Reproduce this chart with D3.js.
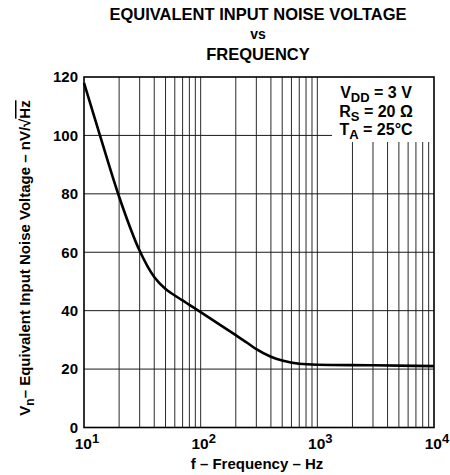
<!DOCTYPE html>
<html>
<head>
<meta charset="utf-8">
<script src="https://cdn.jsdelivr.net/npm/d3@7"></script>
<style>
  html, body { margin: 0; padding: 0; background: #fff; }
  svg { display: block; }
  text { font-family: "Liberation Sans", Arial, sans-serif; font-weight: bold; fill: #000; }
</style>
</head>
<body>
<svg id="chart" width="450" height="475"></svg>
<script>
// ---- data ----
const freqHz = [10, 13.7, 20, 30, 40, 50, 60, 70, 80, 100, 150, 200, 250, 300, 400, 500, 700, 1000, 3000, 10000];
const noiseNv = [118, 100, 79, 60.5, 51.5, 47.4, 45.2, 43.5, 42, 39.5, 34.9, 31.6, 29, 26.8, 24.2, 22.9, 21.8, 21.5, 21.3, 21];
const yTicks = [0, 20, 40, 60, 80, 100, 120];
const xDecades = [1, 2, 3, 4];
const titleLines = ["EQUIVALENT INPUT NOISE VOLTAGE", "vs", "FREQUENCY"];
const legendLines = [["V", "DD", " = 3 V"], ["R", "S", " = 20 \u03A9"], ["T", "A", " = 25\u00B0C"]];

const svg = d3.select("#chart");
const L = 84, R = 434, T = 77, B = 427.5;

const x = d3.scaleLog().domain([10, 10000]).range([L, R]);
const y = d3.scaleLinear().domain([0, 120]).range([B, T]);

// grid: vertical minor/major lines
const vLines = [];
for (let d = 1; d < 4; d++) for (let m = 1; m <= 9; m++) vLines.push(m * Math.pow(10, d));
svg.append("g").selectAll("line").data(vLines.filter(v => v > 10)).join("line")
  .attr("x1", d => x(d)).attr("x2", d => x(d))
  .attr("y1", T).attr("y2", B)
  .attr("stroke", "#2a2a2a").attr("stroke-width", 1);

svg.append("g").selectAll("line").data(yTicks.filter(v => v > 0 && v < 120)).join("line")
  .attr("x1", L).attr("x2", R)
  .attr("y1", d => y(d)).attr("y2", d => y(d))
  .attr("stroke", "#1a1a1a").attr("stroke-width", 1);

// legend box (white, covers grid)
svg.append("rect").attr("x", 332).attr("y", T).attr("width", R - 332).attr("height", 142 - T).attr("fill", "#fff");

// curve
const line = d3.line().x((d, i) => x(freqHz[i])).y(d => y(d)).curve(d3.curveMonotoneX);
svg.append("path").datum(noiseNv).attr("d", line)
  .attr("fill", "none").attr("stroke", "#000").attr("stroke-width", 2.6);

// frame
svg.append("rect").attr("x", L).attr("y", T).attr("width", R - L).attr("height", B - T)
  .attr("fill", "none").attr("stroke", "#000").attr("stroke-width", 1.6);

// y tick labels
svg.append("g").selectAll("text").data(yTicks).join("text")
  .attr("x", 78).attr("y", d => y(d) + 5.4)
  .attr("text-anchor", "end").attr("font-size", 15)
  .text(d => d);

// x tick labels
const xl = svg.append("g").selectAll("text").data(xDecades).join("text")
  .attr("x", d => x(Math.pow(10, d)) + 3).attr("y", 449)
  .attr("text-anchor", "middle").attr("font-size", 15.5);
xl.append("tspan").text("10");
xl.append("tspan").attr("dy", -6).attr("font-size", 13).text(d => d);

// x title
svg.append("text").attr("x", 257).attr("y", 469).attr("text-anchor", "middle")
  .attr("font-size", 15).text("f \u2013 Frequency \u2013 Hz");

// y title
const yt = svg.append("text").attr("transform", "translate(30,258) rotate(-90)")
  .attr("text-anchor", "middle").attr("font-size", 15);
yt.append("tspan").text("V");
yt.append("tspan").attr("dy", 4).attr("font-size", 12).text("n");
yt.append("tspan").attr("dy", -4).text("\u2013 Equivalent Input Noise Voltage \u2013 nV/");
yt.append("tspan").text("\u221A");
yt.append("tspan").attr("text-decoration", "overline").text("Hz");

// chart title
const ty = [20, 39, 60];
const tfs = [16.5, 14, 16.5];
svg.append("g").selectAll("text").data(titleLines).join("text")
  .attr("x", 258).attr("y", (d, i) => ty[i]).attr("text-anchor", "middle")
  .attr("font-size", (d, i) => tfs[i]).text(d => d);

// legend text
const lb = [98, 116.5, 135];
const lg = svg.append("g").selectAll("text").data(legendLines).join("text")
  .attr("x", 376).attr("y", (d, i) => lb[i]).attr("text-anchor", "middle").attr("font-size", 16);
lg.append("tspan").text(d => d[0]);
lg.append("tspan").attr("dy", 4).attr("font-size", 13).text(d => d[1]);
lg.append("tspan").attr("dy", -4).text(d => d[2]);
</script>
</body>
</html>
